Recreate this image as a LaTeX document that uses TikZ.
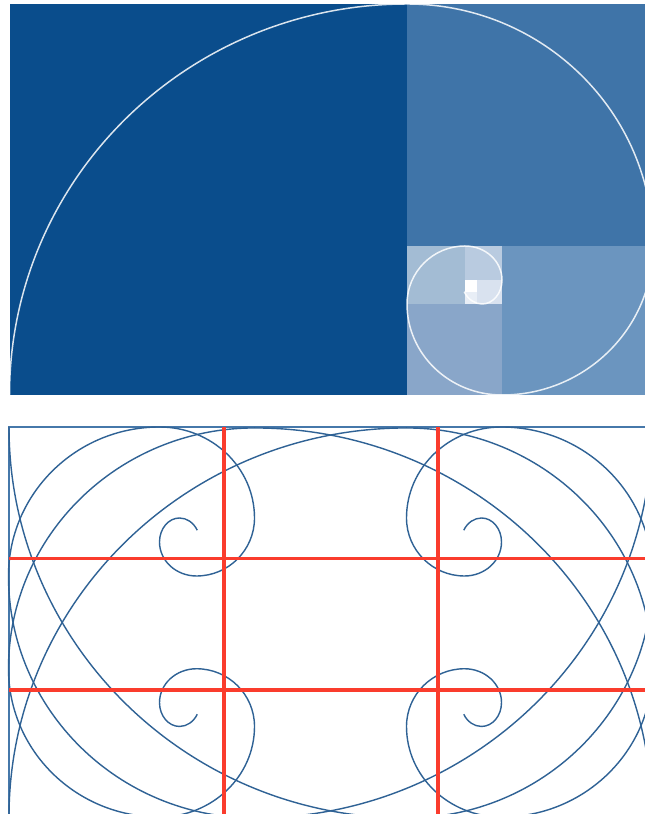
\documentclass[tikz,border=0pt]{standalone}
\usepackage{tikz}
\usepackage{xcolor}
\definecolor{goldbase}{RGB}{10,77,140}
\definecolor{goldtwo}{RGB}{63,116,168}
\definecolor{goldthree}{RGB}{107,149,191}
\definecolor{goldfour}{RGB}{137,166,201}
\definecolor{goldfive}{RGB}{163,188,212}
\definecolor{goldsix}{RGB}{185,203,224}
\definecolor{goldseven}{RGB}{217,226,239}
\definecolor{goldeight}{RGB}{232,238,246}
\definecolor{spiralblue}{RGB}{47,98,149}
\definecolor{frameblue}{RGB}{70,120,170}
\definecolor{guidered}{RGB}{250,60,45}
% one golden spiral, started at the current point
\newcommand{\goldspiral}{
  arc[start angle=180,end angle=90,x radius=397.5,y radius=391]
  arc[start angle=90,end angle=0,x radius=246,y radius=242]
  arc[start angle=0,end angle=-90,x radius=151,y radius=149]
  arc[start angle=-90,end angle=-180,x radius=95,y radius=91]
  arc[start angle=180,end angle=90,x radius=58,y radius=58]
  arc[start angle=90,end angle=0,x radius=37,y radius=34]
  arc[start angle=0,end angle=-90,x radius=20,y radius=24]
  arc[start angle=-90,end angle=-150,x radius=20.5,y radius=24.5]
}
\begin{document}
\begin{tikzpicture}[x=0.02cm,y=0.02cm]
  \useasboundingbox (0,0) rectangle (645,814);
  \fill[white] (0,0) rectangle (645,814);
  \clip (0,0) rectangle (645,814);

  % --- golden rectangle, squares ---
  \foreach \xa/\ya/\xb/\yb/\col in {
    9.5/419/407/810/goldbase,  407/568/653/810/goldtwo,
    502/419/653/568/goldthree, 407/419/502/510/goldfour,
    407/510/465/568/goldfive,  465/534/502/568/goldsix,
    477/510/502/534/goldseven, 465/510/477/522/goldeight,
    465/522/477/534/white}{
    \fill[\col] (\xa,\ya) rectangle (\xb,\yb);
  }
  % white spiral on top
  \draw[white,line width=0.85pt,opacity=0.85] (9.5,419) \goldspiral;

  % --- second panel, frame ---
  \draw[frameblue,line width=0.6pt] (9,-8) rectangle (652,387);

  % --- four mirrored spirals ---
  \foreach \ox/\oy/\sx/\sy in {
    652/387/-1/-1, 9/387/1/-1,
    652/-3/-1/0.995,   9/-3/1/0.995}{
    \draw[spiralblue,line width=0.8pt,shift={(\ox,\oy)},xscale=\sx,yscale=\sy] (0,0) \goldspiral;
  }

  % --- red guide lines ---
  \draw[guidered,line width=1.8pt] (224,-8) -- (224,387);
  \draw[guidered,line width=1.8pt] (438,-8) -- (438,387);
  \draw[guidered,line width=1.8pt] (9,255.5) -- (652,255.5);
  \draw[guidered,line width=1.8pt] (9,124) -- (652,124);
\end{tikzpicture}
\end{document}
